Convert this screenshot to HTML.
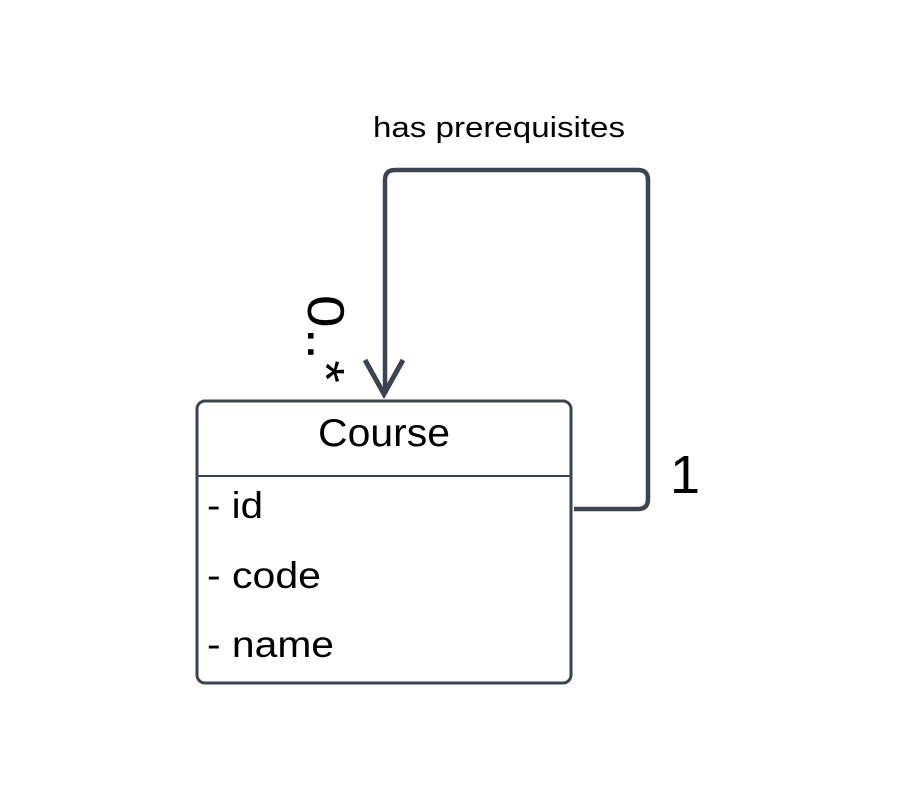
<!DOCTYPE html>
<html><head><meta charset="utf-8"><style>
body{margin:0;background:#fff;}
svg{display:block;}
text{font-family:"Liberation Sans",Arial,sans-serif;fill:#000;}
</style></head><body>
<svg width="900" height="788" viewBox="0 0 900 788" xmlns="http://www.w3.org/2000/svg">
<rect width="900" height="788" fill="#fff"/>
<path d="M574 509 H638 Q648 509 648 499 V180 Q648 170 638 170 H395 Q385 170 385 180 V394" fill="none" stroke="#3d4350" stroke-width="4.5"/>
<path d="M365 360 L384 394 L403 360" fill="none" stroke="#3d4350" stroke-width="5"/>
<rect x="197" y="401" width="374" height="282" rx="8" fill="#fff" stroke="#3d4350" stroke-width="3"/>
<line x1="197" y1="476" x2="571" y2="476" stroke="#3d4350" stroke-width="2"/>
<text x="318" y="446" font-size="39" textLength="132" lengthAdjust="spacingAndGlyphs">Course</text>
<text x="207" y="518" font-size="37" textLength="56" lengthAdjust="spacingAndGlyphs">- id</text>
<text x="207" y="588" font-size="37" textLength="114" lengthAdjust="spacingAndGlyphs">- code</text>
<text x="207" y="657" font-size="37" textLength="127" lengthAdjust="spacingAndGlyphs">- name</text>
<text x="373" y="137" font-size="29" textLength="252" lengthAdjust="spacingAndGlyphs">has prerequisites</text>
<text x="670" y="493" font-size="54">1</text>
<text transform="translate(308,295) rotate(90)" font-size="52" textLength="88" lengthAdjust="spacingAndGlyphs">0..*</text>
</svg>
</body></html>
